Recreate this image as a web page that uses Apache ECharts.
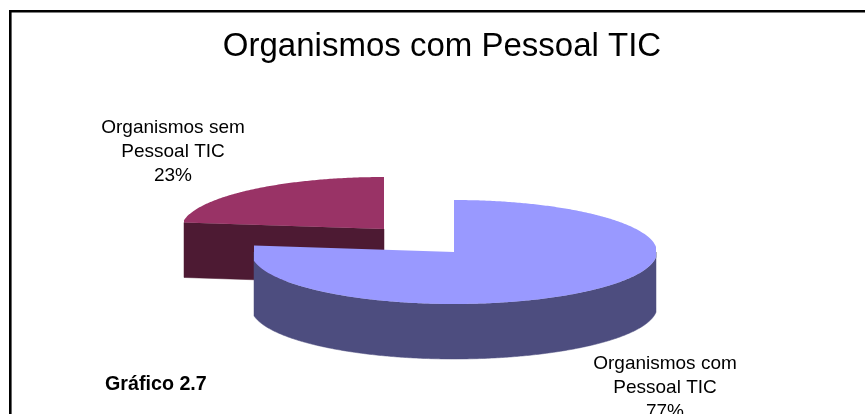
<!DOCTYPE html>
<html>
<head>
<meta charset="utf-8">
<style>html,body{margin:0;padding:0;background:#fff;overflow:hidden}#c{width:865px;height:414px}</style>
<script src="https://cdn.jsdelivr.net/npm/echarts@6/dist/echarts.min.js"></script>
</head>
<body>
<div id="c"></div>
<script>
var titleText = 'Organismos com Pessoal TIC';
var noteText = 'Gráfico 2.7';
var categories = ['Organismos com\nPessoal TIC', 'Organismos sem\nPessoal TIC'];
var shares = [77, 23];

var topColors = ['#9999FF', '#993366'];
var wallColors = ['#4D4D7F', '#4D1A33'];
var FONT = '"Liberation Sans", Arial, sans-serif';

var RX = 203, RY = 52, DEPTH = 55;
var CLIP_LEFT = 200, CLIP_RIGHT = 202;
var pieCentre = [454, 252];
var explode = [[0, 0], [-70, -23]];
var labelPos = [[665, 364], [173, 128]];

function pt(cx, cy, a) {
  var dx = RX * Math.sin(a);
  dx = Math.max(-CLIP_LEFT, Math.min(CLIP_RIGHT, dx));
  return [cx + dx, cy - RY * Math.cos(a)];
}

function arcPts(cx, cy, a0, a1) {
  var n = Math.max(2, Math.ceil(Math.abs(a1 - a0) / 0.01)), out = [];
  for (var i = 0; i <= n; i++) out.push(pt(cx, cy, a0 + (a1 - a0) * i / n));
  return out;
}

var total = shares.reduce(function (s, v) { return s + v; }, 0);

function wall(points, idx) {
  return {
    type: 'polygon',
    shape: { points: points },
    style: { fill: wallColors[idx], stroke: wallColors[idx], lineWidth: 0.5 }
  };
}

function renderSlice(params, api) {
  var idx = api.value(0);
  var start = 0;
  for (var i = 0; i < idx; i++) start += shares[i];
  var a0 = start / total * 2 * Math.PI;
  var a1 = (start + api.value(1)) / total * 2 * Math.PI;
  var cx = pieCentre[0] + explode[idx][0];
  var cy = pieCentre[1] + explode[idx][1];
  var children = [];

  // cut face at the start angle, visible when it turns towards the viewer
  if (a0 > Math.PI && a0 < 2 * Math.PI) {
    var c = pt(cx, cy, a0);
    children.push(wall([[cx, cy], c, [c[0], c[1] + DEPTH], [cx, cy + DEPTH]], idx));
  }
  // outer wall: only the front half (90deg..270deg) faces the viewer
  var w0 = Math.max(a0, Math.PI / 2), w1 = Math.min(a1, 3 * Math.PI / 2);
  if (w1 > w0) {
    var upper = arcPts(cx, cy, w0, w1);
    var lower = upper.map(function (p) { return [p[0], p[1] + DEPTH]; }).reverse();
    children.push(wall(upper.concat(lower), idx));
  }
  var top = [[cx, cy]].concat(arcPts(cx, cy, a0, a1));
  children.push({
    type: 'polygon',
    shape: { points: top },
    style: { fill: topColors[idx] }
  });
  var lines = categories[idx] + '\n' + api.value(1) + '%';
  children.push({
    type: 'text',
    style: {
      text: lines,
      x: labelPos[idx][0],
      y: labelPos[idx][1] - 12,
      fill: '#000',
      font: '19px ' + FONT,
      align: 'center',
      verticalAlign: 'top',
      lineHeight: 24
    }
  });
  return { type: 'group', children: children };
}

// drawn back to front: the exploded slice lies behind the main one
var sliceData = shares.map(function (v, i) { return [i, v]; }).reverse();

var chart = echarts.init(document.getElementById('c'), null, { renderer: 'canvas' });
chart.setOption({
  animation: false,
  backgroundColor: '#fff',
  title: {
    text: titleText,
    left: 442,
    top: 30,
    padding: 0,
    textAlign: 'center',
    textStyle: { fontFamily: FONT, fontSize: 33, fontWeight: 'normal', color: '#000' }
  },
  graphic: [
    { type: 'rect', silent: true, z: -1,
      shape: { x: 10.3, y: 11.3, width: 900, height: 500 },
      style: { fill: '#fff', stroke: '#000', lineWidth: 2.6 } },
    { type: 'text', left: 105, top: 375,
      style: { text: noteText, fill: '#000', font: 'bold 19.7px ' + FONT } }
  ],
  series: [{
    type: 'custom',
    coordinateSystem: 'none',
    renderItem: renderSlice,
    data: sliceData,
    silent: true
  }]
});
</script>
</body>
</html>
